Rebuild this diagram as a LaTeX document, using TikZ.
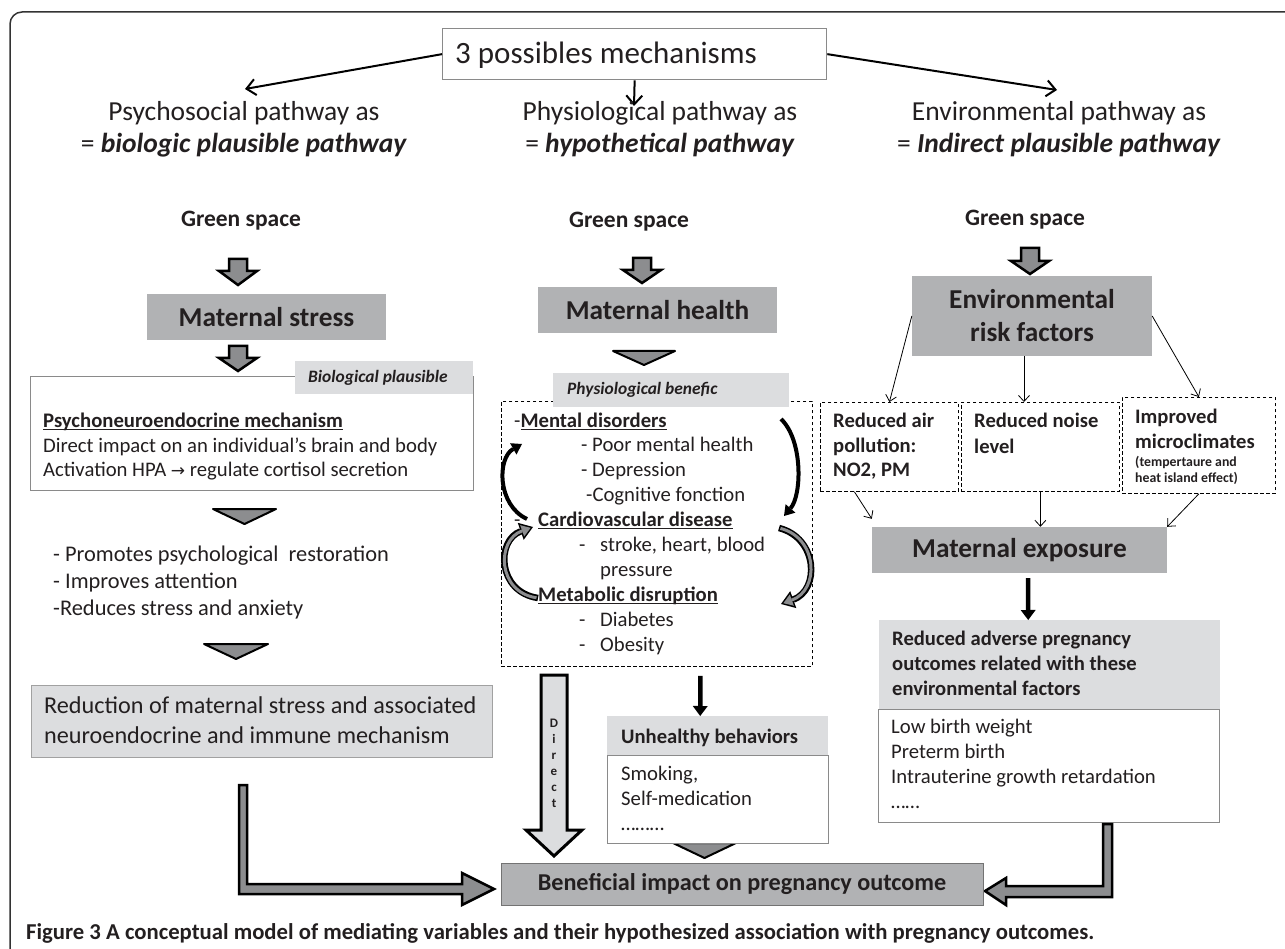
\documentclass[tikz,border=0pt]{standalone}
\usepackage{fontspec}
\setmainfont{Carlito}
\newfontfamily\arrowfont{DejaVu Sans}
\usetikzlibrary{arrows.meta,calc}

\definecolor{boxgray}{HTML}{B1B2B4}
\definecolor{lblgray}{HTML}{DCDDDF}
\definecolor{arrgray}{HTML}{8C8D8F}
\definecolor{edgegray}{HTML}{8A8A8A}
\definecolor{txtc}{HTML}{231F20}

\newlength{\ulwd}
\newcommand{\ulin}[1]{\settowidth{\ulwd}{#1}\rlap{\rule[-2.8pt]{\ulwd}{1.3pt}}#1}
% block arrow pointing down: x, top, head, tip, shaft half, head half
\newcommand{\dnblock}[6]{\filldraw[blockarr] (#1-#5,#2) -- (#1+#5,#2) -- (#1+#5,#3) -- (#1+#6,#3) -- (#1,#4) -- (#1-#6,#3) -- (#1-#5,#3) -- cycle;}
% flat wedge pointing down: left, right, top, tip
\newcommand{\dnwedge}[4]{\filldraw[wedge] (#1,#3) -- (#2,#3) -- ({(#1+#2)/2},#4) -- cycle;}

\begin{document}
\begin{tikzpicture}[x=1pt,y=-1pt,
  every node/.style={text=txtc, inner sep=0pt, execute at begin node={\spaceskip=0pt\xspaceskip=0pt\relax}},
  darkbox/.style={fill=boxgray, font=\fontsize{27.3}{33}\selectfont\bfseries, align=center},
  lblbox/.style={fill=lblgray, anchor=north west, align=left, inner xsep=13pt},
  whitebox/.style={draw=edgegray, line width=1.3pt, fill=white, anchor=north west},
  dashbox/.style={draw=black, line width=0.8pt, dash pattern=on 3.5pt off 2.5pt, anchor=north west},
  body/.style={font=\fontsize{20.7}{25}\selectfont, anchor=base west, align=left, text width=600pt},
  head/.style={font=\fontsize{27.5}{32}\selectfont, anchor=base, align=center},
  green/.style={font=\fontsize{23.5}{28}\selectfont\bfseries, anchor=base},
  toparr/.style={line width=2pt, -{Straight Barb[length=9pt,width=16pt]}},
  thin/.style={line width=0.8pt, -{Straight Barb[length=6pt,width=11pt]}},
  fatarr/.style={line width=4.5pt, -{Triangle[length=10pt,width=15pt,line width=0pt]}},
  blockarr/.style={fill=arrgray, draw=black, line width=2.5pt, line join=miter},
  wedge/.style={fill=arrgray, draw=black, line width=2pt, line join=round},
  blackarc/.style={line width=4pt, -{Triangle[length=10pt,width=13pt,line width=0pt]}},
  grayarc/.style={line width=6.5pt, -{Triangle[length=13pt,width=18pt,line width=0pt]}},
  grayarcin/.style={line width=3pt, arrgray, shorten >=2.5pt, shorten <=1.5pt, -{Triangle[length=9pt,width=12pt,line width=0pt]}},
]
\useasboundingbox (0,0) rectangle (1285,949);

% frame
\draw[line width=1.5pt, black!80, rounded corners=12pt] (10,949) -- (10,12) -- (1285,12);

% top
\node[draw=edgegray, line width=1.3pt, anchor=north west, minimum width=384pt, minimum height=51pt] (mech) at (442,28) {};
\node[anchor=base west, font=\fontsize{31}{36}\selectfont] (mechtxt) at (455,64) {3 possibles mechanisms};
\coordinate (psytop) at (245,89);
\coordinate (phytop) at (634,106);
\coordinate (envtop) at (1057,90);
\draw[toparr] (mech.west) -- (psytop);
\draw[toparr] (mech.south) -- (phytop);
\draw[toparr] (mech.east) -- (envtop);

% base = second line
\node[head] (psy) at (244,153) {Psychosocial pathway as\\= \textbf{\textit{biologic plausible pathway}}};
\node[head] (phy) at (660,153) {Physiological pathway as\\= \textbf{\textit{hypothetical pathway}}};
\node[head] (env) at (1059,153) {Environmental pathway as\\= \textbf{\textit{Indirect plausible pathway}}};

\node[green] (gs1) at (241,227) {Green space};
\node[green] (gs2) at (629,228) {Green space};
\node[green] (gs3) at (1025,226) {Green space};

\dnblock{238}{259}{271}{285}{9}{19}
\dnblock{642}{258}{270}{283}{9}{19}
\dnblock{1030}{248}{261}{274}{9}{19}

\node[darkbox, minimum width=239pt, minimum height=46pt] (ms) at (266.5,317) {Maternal stress};
\node[darkbox, minimum width=239pt, minimum height=46pt] (mh) at (657.5,310) {Maternal health};
\node[darkbox, minimum width=240pt, minimum height=80pt] (erf) at (1032,316) {Environmental\\risk factors};

% psychosocial column
\dnblock{238}{346}{358}{371}{9}{19}
\node[whitebox, minimum width=443pt, minimum height=114pt] (lbox) at (30,376) {};
\node[lblbox, text width=152pt, minimum height=33pt, font=\fontsize{17.4}{20}\selectfont\bfseries\itshape] (biolbl) at (295,361) {Biological plausible};
\node[body] (lboxtxt) at (43,427) {\ulin{\textbf{Psychoneuroendocrine mechanism}}\\
Direct impact on an individual’s brain and body\\
Activation HPA {\arrowfont\fontsize{17}{20}\selectfont →} regulate cortisol secretion};
\dnwedge{213}{276}{509}{524}
\node[body, font=\fontsize{22.4}{27}\selectfont] (bullets) at (53,561) {- Promotes psychological\ \ restoration\\
- Improves attention\\
-Reduces stress and anxiety};
\dnwedge{204}{268}{644}{659}
\node[fill=lblgray, draw=edgegray!80, line width=1.3pt, anchor=north west, minimum width=461pt, minimum height=72pt] (redbox) at (31,685) {};
\node[body, font=\fontsize{24.2}{30}\selectfont] (redtxt) at (44,713) {Reduction of maternal stress and associated\\neuroendocrine and immune mechanism};

% physiological column
\dnwedge{613}{675}{351}{365}
\node[dashbox, minimum width=311pt, minimum height=265pt] (pbox) at (501,401) {};
\node[lblbox, text width=208pt, minimum height=34pt, inner xsep=14pt, font=\fontsize{17.4}{20}\selectfont\bfseries\itshape] (physlbl) at (553,373) {Physiological benefic};
\node[body, font=\fontsize{20.7}{24.9}\selectfont] (pbtxt) at (514,427) {-\ulin{\textbf{Mental disorders}}\\
\hspace*{67pt}- Poor mental health\\
\hspace*{67pt}- Depression\\
\hspace*{72pt}-Cognitive fonction\\
\makebox[24pt][l]{-}\ulin{\textbf{Cardiovascular disease}}\\
\hspace*{65pt}\makebox[21pt][l]{-}stroke, heart, blood\\
\hspace*{86pt}pressure\\
\hspace*{24pt}\ulin{\textbf{Metabolic disruption}}\\
\hspace*{65pt}\makebox[21pt][l]{-}Diabetes\\
\hspace*{65pt}\makebox[21pt][l]{-}Obesity};
% loops between the disorders
\draw[blackarc] (781,419) .. controls (803,440) and (802,495) .. (784,516);
\draw[blackarc] (527,519) .. controls (497,505) and (497,458) .. (522,444);
\draw[grayarc] (538,598) .. controls (497,592) and (496,540) .. (533,527);
\draw[grayarcin] (538,598) .. controls (497,592) and (496,540) .. (533,527);
\draw[grayarc] (779,528) .. controls (818,538) and (820,590) .. (781,604);
\draw[grayarcin] (779,528) .. controls (818,538) and (820,590) .. (781,604);

\filldraw[fill=lblgray, draw=black, line width=3pt, line join=miter] (541,675) -- (567,675) -- (567,830) -- (582,830) -- (554,856) -- (526,830) -- (541,830) -- cycle;
\node[anchor=base, align=center, text width=12pt, font=\fontsize{13}{16}\selectfont\bfseries] (dirtxt) at (554,727) {D\\i\\r\\e\\c\\t};

\node[fill=lblgray, anchor=north west, minimum width=221pt, minimum height=39pt] (unhlbl) at (607,716) {};
\node[anchor=base west, font=\fontsize{20.6}{25}\selectfont\bfseries] (unhtxt) at (621,743) {Unhealthy behaviors};
\draw[fatarr] ([shift={(43.5,9)}]pbox.south) -- ([xshift=-17.5pt]unhlbl.north);
\dnwedge{673}{736}{843}{858}
\node[whitebox, minimum width=221pt, minimum height=88pt] (unhbox) at (607,755) {};
\node[body] (unhboxtxt) at (621,780) {Smoking,\\Self-medication\\………};

% environmental column
\node[dashbox, minimum width=138pt, minimum height=89pt] (airbox) at (820,402) {};
\node[dashbox, minimum width=158pt, minimum height=89pt] (noisebox) at (961,402) {};
\node[dashbox, minimum width=153pt, minimum height=96pt] (climbox) at (1122,397) {};
\node[body, font=\fontsize{20.6}{25}\selectfont\bfseries] (airtxt) at (833,427) {Reduced air\\pollution:\\NO2, PM};
\node[body, font=\fontsize{20.6}{25}\selectfont\bfseries] (noisetxt) at (974,428) {Reduced noise\\level};
\node[body, font=\fontsize{20.6}{25}\selectfont\bfseries] (climtxt) at (1135,423) {Improved\\microclimates};
\node[body, font=\fontsize{13.8}{16}\selectfont\bfseries] (climsmall) at (1135,466) {(tempertaure and\\heat island effect)};
\draw[thin] (erf.west) -- (airbox.north);
\draw[thin] ([xshift=-8pt]erf.south) -- ([xshift=-8pt]erf.south |- noisebox.north);
\draw[thin] (erf.east) -- (climbox.north);

\node[darkbox, minimum width=295pt, minimum height=46pt] (mexp) at (1019.5,550) {Maternal exposure};
\draw[thin] ([xshift=-35pt]airbox.south) -- ([yshift=8pt]mexp.north west);
\draw[thin] (noisebox.south) -- (noisebox.south |- mexp.north);
\draw[thin] (climbox.south) -- (mexp.north east);

\node[fill=lblgray, anchor=north west, minimum width=341pt, minimum height=89pt] (advlbl) at (879,620) {};
\node[body, font=\fontsize{20.6}{25}\selectfont\bfseries] (advtxt) at (892,645) {Reduced adverse pregnancy\\outcomes related with these\\environmental factors};
\draw[fatarr] ([shift={(8.5,5)}]mexp.south) -- ([xshift=-21.5pt]advlbl.north);
\node[whitebox, minimum width=341pt, minimum height=113pt] (advbox) at (878,709) {};
\node[body, font=\fontsize{20.7}{25.3}\selectfont] (advboxtxt) at (891,733) {Low birth weight\\Preterm birth\\Intrauterine growth retardation\\……};

% outcome
\filldraw[blockarr] (239,785) -- (247,785) -- (247,884) -- (462,884) -- (462,873) -- (494,889) -- (462,905) -- (462,894) -- (239,894) -- cycle;
\filldraw[blockarr] (1112,824) -- (1112,897) -- (1006,897) -- (1006,905) -- (985,891) -- (1006,878) -- (1006,886) -- (1103,886) -- (1103,824) -- cycle;
\node[darkbox, draw=black!55, line width=1pt, minimum width=482pt, minimum height=42pt, font=\fontsize{24.2}{29}\selectfont\bfseries] (benef) at (742,884) {Beneficial impact on pregnancy outcome};

\node[anchor=base west, font=\fontsize{22.7}{26}\selectfont\bfseries] (caption) at (26,939) {Figure 3 A conceptual model of mediating variables and their hypothesized association with pregnancy outcomes.};
\end{tikzpicture}
\end{document}
